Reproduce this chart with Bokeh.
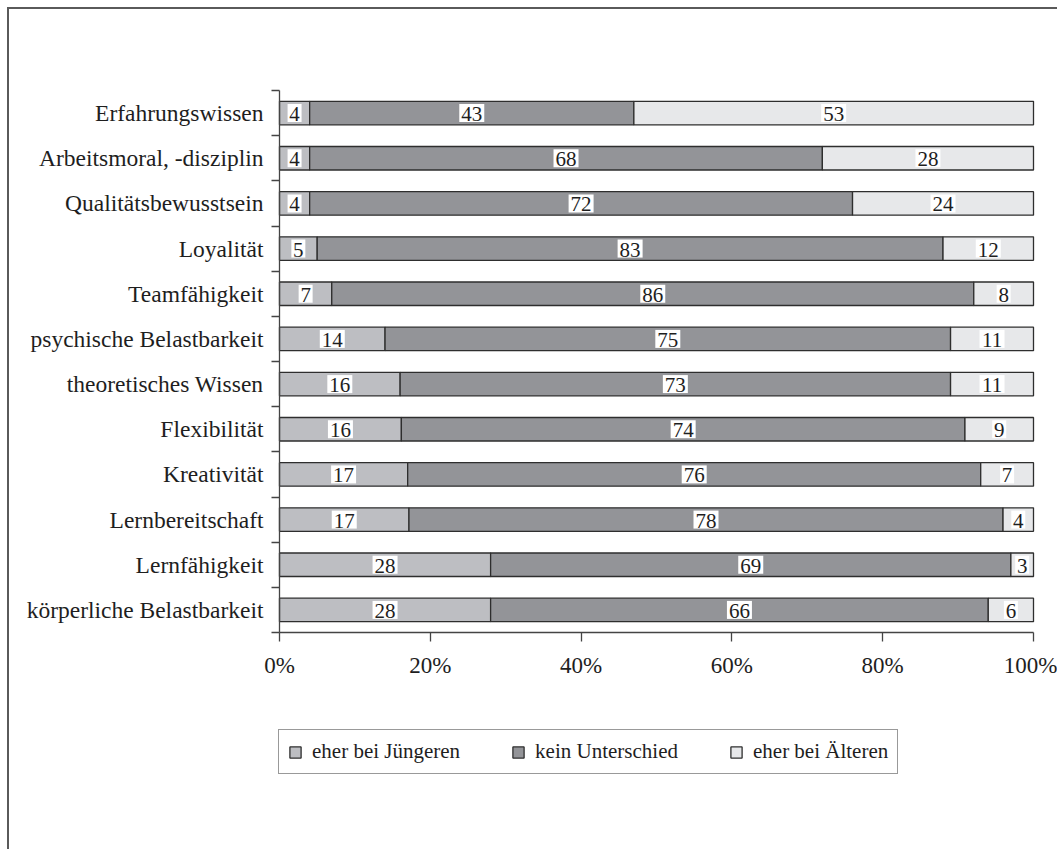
from bokeh.plotting import figure
from bokeh.models import (ColumnDataSource, FixedTicker, Range1d, Legend, LegendItem)
from bokeh.core.properties import value
from bokeh.embed import file_html
from bokeh.resources import INLINE

# ---- data (top to bottom as in the chart) ----
categories = ["Erfahrungswissen", "Arbeitsmoral, -disziplin", "Qualitätsbewusstsein",
              "Loyalität", "Teamfähigkeit", "psychische Belastbarkeit",
              "theoretisches Wissen", "Flexibilität", "Kreativität",
              "Lernbereitschaft", "Lernfähigkeit", "körperliche Belastbarkeit"]
juengere = [4, 4, 4, 5, 7, 14, 16, 16, 17, 17, 28, 28]
kein_unterschied = [43, 68, 72, 83, 86, 75, 73, 74, 76, 78, 69, 66]
aeltere = [53, 28, 24, 12, 8, 11, 11, 9, 7, 4, 3, 6]
series_names = ["eher bei Jüngeren", "kein Unterschied", "eher bei Älteren"]
x_ticks = [0, 20, 40, 60, 80, 100]
x_tick_labels = ["0%", "20%", "40%", "60%", "80%", "100%"]

colors = ["#bdbec2", "#939498", "#e7e8ea"]
FONT = "Liberation Serif"
TXT = "#1e1e1e"

n = len(categories)
ypos = [n - 1 - i for i in range(n)]  # top row highest

# 100%-stacked: normalise each row by its total
series = [juengere, kein_unterschied, aeltere]
totals = [sum(s[i] for s in series) for i in range(n)]
lefts, rights = [], []
cum = [0.0] * n
for s in series:
    l = list(cum)
    r = [cum[i] + s[i] / totals[i] * 100.0 for i in range(n)]
    lefts.append(l)
    rights.append(r)
    cum = r

# ---- layout (pixels) ----
W, H = 1050, 842          # canvas size; canvas starts at page pixel (9, 9)
ORG = 9
PX0, PX100 = 279, 1033    # page x of 0% and 100%
PY_TOP, PY_BOT = 90, 632  # page y of top / bottom category boundary
sx = (PX100 - PX0) / 100.0
sy = (PY_BOT - PY_TOP) / n
x0 = -(PX0 - ORG) / sx
x1 = x0 + W / sx
y1 = (n - 0.5) + (PY_TOP - ORG) / sy
y0 = -0.5 - (ORG + H - PY_BOT) / sy

p = figure(width=W, height=H, output_backend="svg", toolbar_location=None,
           x_range=Range1d(x0, x1), y_range=Range1d(y0, y1),
           min_border_left=0, min_border_right=0, min_border_top=0,
           min_border_bottom=0)
p.styles = {"border-top": "2px solid #5a5a5a", "border-left": "2px solid #5a5a5a",
            "margin-left": "7px", "margin-top": "7px"}
p.outline_line_color = None
p.xgrid.visible = False
p.ygrid.visible = False
p.background_fill_color = "white"
p.border_fill_color = "white"

renderers = []
for k in range(3):
    src = ColumnDataSource(dict(y=ypos, left=lefts[k], right=rights[k]))
    r = p.hbar(y="y", left="left", right="right", height=0.52, source=src,
               fill_color=colors[k], line_color="#2e2e2e", line_width=1.3)
    renderers.append(r)

# value labels with white boxes
lx, ly, lt, lw = [], [], [], []
for k in range(3):
    for i in range(n):
        lx.append((lefts[k][i] + rights[k][i]) / 2.0)
        ly.append(ypos[i])
        t = str(series[k][i])
        lt.append(t)
        lw.append(11 * len(t) + 3)
lsrc = ColumnDataSource(dict(x=lx, y=ly, text=lt, w=lw))
p.rect(x="x", y="y", width="w", height=18, width_units="screen", height_units="screen",
       source=lsrc, fill_color="white", line_color=None)
p.text(x="x", y="y", text="text", source=lsrc, text_align="center",
       text_baseline="middle", text_font=value(FONT), text_font_size="21px",
       text_color=TXT, y_offset=1)

# x axis
xa = p.xaxis[0]
xa.fixed_location = -0.5
xa.bounds = (0, 100)
xa.ticker = FixedTicker(ticks=x_ticks)
xa.major_label_overrides = {t: l for t, l in zip(x_ticks, x_tick_labels)}
xa.major_tick_out = 9
xa.major_tick_in = 0
xa.minor_tick_out = 0
xa.minor_tick_in = 0
xa.axis_line_color = "#444444"
xa.major_tick_line_color = "#444444"
xa.axis_line_width = 1.3
xa.major_tick_line_width = 1.3
xa.major_label_text_font = FONT
xa.major_label_text_font_size = "23px"
xa.major_label_text_color = TXT
xa.major_label_standoff = 11

# y axis
ya = p.yaxis[0]
ya.fixed_location = 0
ya.bounds = (-0.5, n - 0.5)
ya.ticker = FixedTicker(ticks=ypos, minor_ticks=[v - 0.5 for v in range(n + 1)])
ya.major_label_overrides = {ypos[i]: categories[i] for i in range(n)}
ya.major_tick_out = 0
ya.major_tick_in = 0
ya.minor_tick_out = 8
ya.minor_tick_in = 0
ya.axis_line_color = "#444444"
ya.minor_tick_line_color = "#444444"
ya.axis_line_width = 1.3
ya.minor_tick_line_width = 1.3
ya.major_label_text_font = FONT
ya.major_label_text_font_size = "23.5px"
ya.major_label_text_color = TXT
ya.major_label_standoff = 8

LEG_LEFT, LEG_BOTTOM = 278, 774
legend = Legend(items=[LegendItem(label=series_names[k], renderers=[renderers[k]]) for k in range(3)],
                orientation="horizontal",
                location=(LEG_LEFT - ORG, ORG + H - LEG_BOTTOM), margin=0,
                padding=9, spacing=51, label_standoff=10, glyph_width=14, glyph_height=14,
                label_text_font=FONT, label_text_font_size="21px", label_text_color=TXT,
                border_line_color="#333333", border_line_width=1.5,
                background_fill_color="white", background_fill_alpha=1.0)
p.add_layout(legend)

open("out.html", "w").write(file_html(p, INLINE))
